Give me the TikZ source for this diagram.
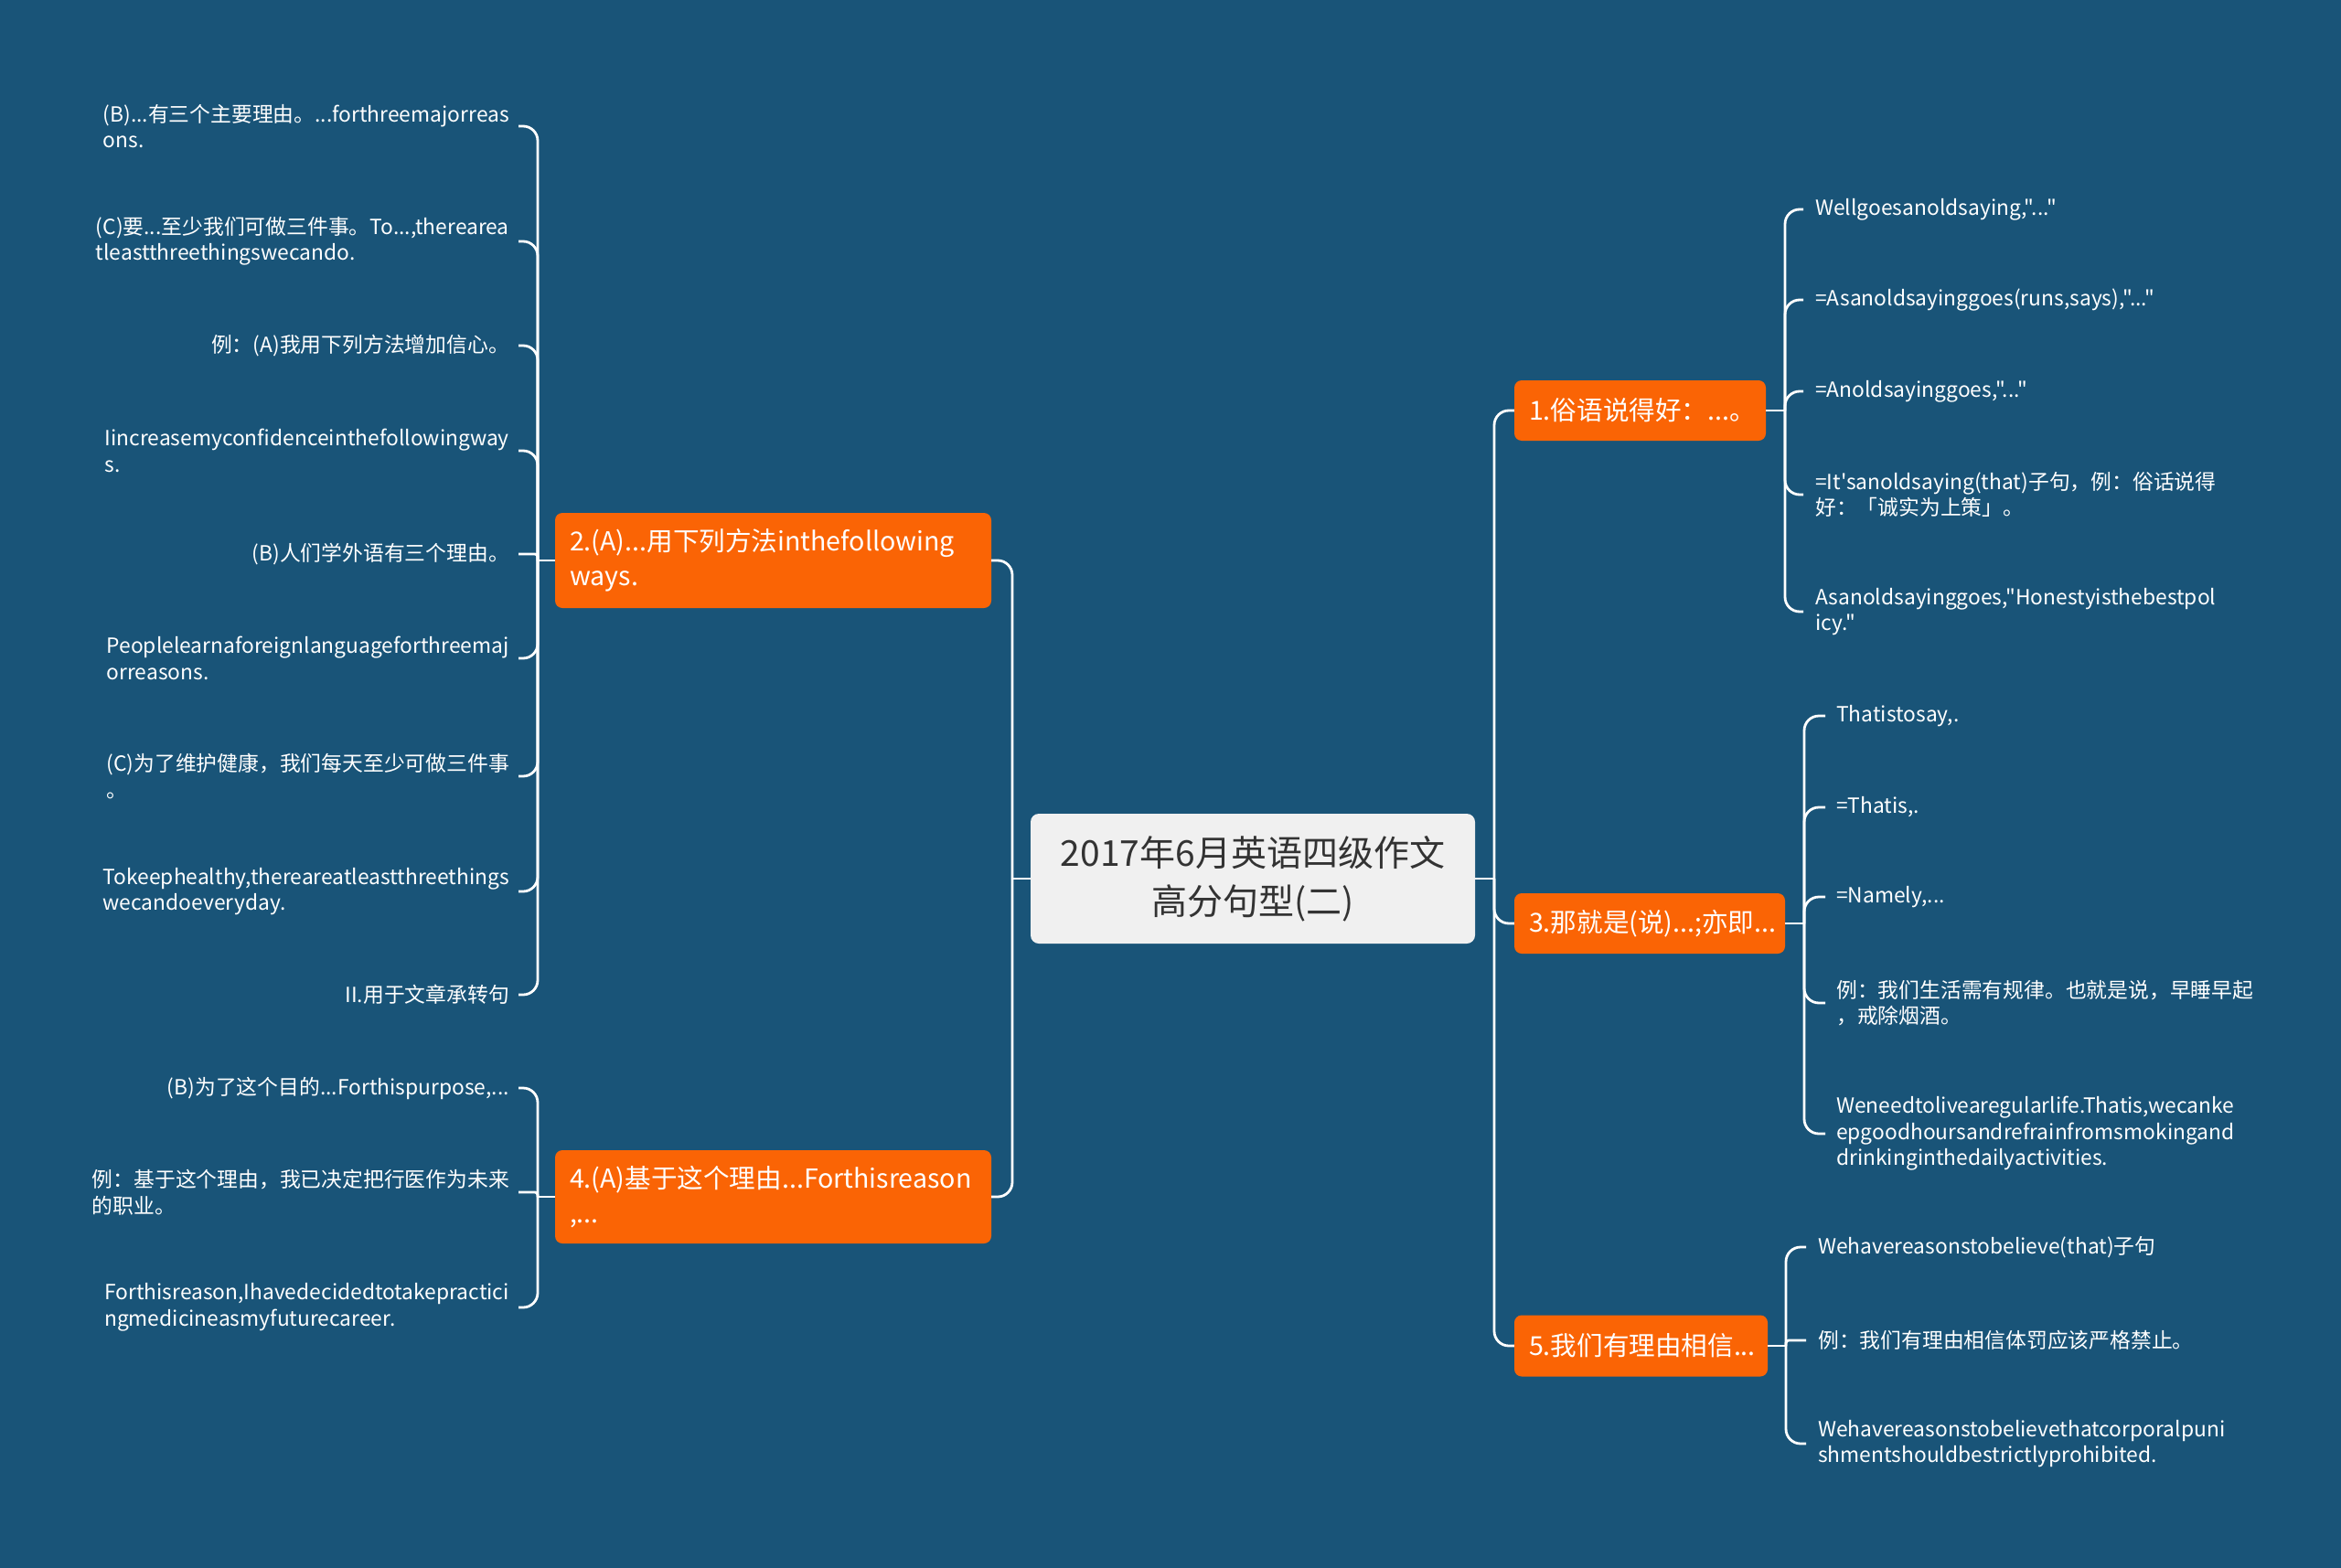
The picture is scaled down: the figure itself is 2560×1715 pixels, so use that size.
\documentclass[tikz,border=0pt]{standalone}
\usepackage{fontspec}
\setmainfont{Noto Sans CJK SC}[Ligatures=TeXOff]
\definecolor{bgblue}{HTML}{195478}
\definecolor{topicor}{HTML}{FA6405}
\definecolor{rootfill}{HTML}{F0F0F0}
\definecolor{roottext}{HTML}{333333}
\begin{document}
\begin{tikzpicture}[x=1pt,y=-1pt,
  leaf/.style={inner sep=0pt, text=white, font=\fontsize{22.8}{28.5}\selectfont, align=left},
  topic/.style={fill=topicor, rounded corners=8pt, text=white, font=\fontsize{28.6}{38}\selectfont, align=left, inner xsep=16pt, inner ysep=0pt},
  rootnode/.style={fill=rootfill, rounded corners=9pt, text=roottext, font=\fontsize{39}{53}\selectfont, align=center, inner sep=0pt},
  conn/.style={draw=white, line width=2.8pt, rounded corners=16pt}
]
\useasboundingbox (0,0) rectangle (2560,1715);
\fill[bgblue] (0,0) rectangle (2560,1715);

% root and topics
\node[rootnode, minimum width=486pt, minimum height=142pt] (c) at (1370,961) {2017年6月英语四级作文\\高分句型(二)};
\node[topic, text width=243pt, minimum height=66pt] (n1) at (1793.5,449) {1.俗语说得好：...。};
\node[topic, text width=264pt, minimum height=66pt] (n3) at (1804,1010) {3.那就是(说)...;亦即...};
\node[topic, text width=245pt, minimum height=67pt] (n5) at (1794.5,1472) {5.我们有理由相信...};
\node[topic, text width=445pt, minimum height=104pt] (n2) at (845.5,613) {2.(A)...用下列方法inthefollowing\\ways.};
\node[topic, text width=445pt, minimum height=102pt] (n4) at (845.5,1309) {4.(A)基于这个理由...Forthisreason\\,...};

% junctions
\coordinate (jr) at (1634,961);
\coordinate (jl) at (1107,961);
\coordinate (j1) at (1952,449);
\coordinate (j3) at (1973,1010);
\coordinate (j5) at (1953,1472);
\coordinate (j2) at (588,613);
\coordinate (j4) at (588,1309);

% leaves of 1
\node[leaf, anchor=west] (a1) at (1985,229) {Wellgoesanoldsaying,"..."};
\node[leaf, anchor=west] (a2) at (1985,328) {=Asanoldsayinggoes(runs,says),"..."};
\node[leaf, anchor=west] (a3) at (1985,428) {=Anoldsayinggoes,"..."};
\node[leaf, anchor=west] (a4) at (1985,541) {=It'sanoldsaying(that)子句，例：俗话说得\\好：「诚实为上策」。};
\node[leaf, anchor=west] (a5) at (1985,669) {Asanoldsayinggoes,"Honestyisthebestpol\\icy."};

% leaves of 3
\node[leaf, anchor=west] (b1) at (2008,783) {Thatistosay,.};
\node[leaf, anchor=west] (b2) at (2008,883) {=Thatis,.};
\node[leaf, anchor=west] (b3) at (2008,981) {=Namely,...};
\node[leaf, anchor=west] (b4) at (2008,1097) {例：我们生活需有规律。也就是说，早睡早起\\，戒除烟酒。};
\node[leaf, anchor=west] (b5) at (2008,1240) {Weneedtolivearegularlife.Thatis,wecanke\\epgoodhoursandrefrainfromsmokingand\\drinkinginthedailyactivities.};

% leaves of 5
\node[leaf, anchor=west] (d1) at (1988,1364) {Wehavereasonstobelieve(that)子句};
\node[leaf, anchor=west] (d2) at (1988,1466) {例：我们有理由相信体罚应该严格禁止。};
\node[leaf, anchor=west] (d3) at (1988,1579) {Wehavereasonstobelievethatcorporalpuni\\shmentshouldbestrictlyprohibited.};

% leaves of 2
\node[leaf, anchor=east] (e1) at (557,138) {(B)...有三个主要理由。...forthreemajorreas\\ons.};
\node[leaf, anchor=east] (e2) at (557,264) {(C)要...至少我们可做三件事。To...,therearea\\tleastthreethingswecando.};
\node[leaf, anchor=east] (e3) at (557,378) {例：(A)我用下列方法增加信心。};
\node[leaf, anchor=east] (e4) at (557,493) {Iincreasemyconfidenceinthefollowingway\\s.};
\node[leaf, anchor=east] (e5) at (557,606) {(B)人们学外语有三个理由。};
\node[leaf, anchor=east] (e6) at (557,720) {Peoplelearnaforeignlanguageforthreemaj\\orreasons.};
\node[leaf, anchor=east] (e7) at (557,849) {(C)为了维护健康，我们每天至少可做三件事\\。};
\node[leaf, anchor=east] (e8) at (557,975) {Tokeephealthy,thereareatleastthreethings\\wecandoeveryday.};
\node[leaf, anchor=east] (e9) at (557,1088) {II.用于文章承转句};

% leaves of 4
\node[leaf, anchor=east] (f1) at (557,1190) {(B)为了这个目的...Forthispurpose,...};
\node[leaf, anchor=east] (f2) at (557,1304) {例：基于这个理由，我已决定把行医作为未来\\的职业。};
\node[leaf, anchor=east] (f3) at (557,1430) {Forthisreason,Ihavedecidedtotakepractici\\ngmedicineasmyfuturecareer.};

% trunk connectors
\draw[conn] (c.east) -- (jr);
\draw[conn] (jr) -- (jr |- n1.west) -- (n1.west);
\draw[conn] (jr) -- (jr |- n3.west) -- (n3.west);
\draw[conn] (jr) -- (jr |- n5.west) -- (n5.west);
\draw[conn] (c.west) -- (jl);
\draw[conn] (jl) -- (jl |- n2.east) -- (n2.east);
\draw[conn] (jl) -- (jl |- n4.east) -- (n4.east);

% topic 1
\draw[conn] (n1.east) -- (j1);
\foreach \t in {a1,a2,a3,a4,a5}
  \draw[conn] (j1) -- (j1 |- \t.west) -- ([xshift=-13pt]\t.west);
% topic 3
\draw[conn] (n3.east) -- (j3);
\foreach \t in {b1,b2,b3,b4,b5}
  \draw[conn] (j3) -- (j3 |- \t.west) -- ([xshift=-12pt]\t.west);
% topic 5
\draw[conn] (n5.east) -- (j5);
\foreach \t in {d1,d3}
  \draw[conn] (j5) -- (j5 |- \t.west) -- ([xshift=-13pt]\t.west);
\draw[conn, rounded corners=3pt] (j5) -- (j5 |- d2.west) -- ([xshift=-13pt]d2.west);
% topic 2
\draw[conn] (n2.west) -- (j2);
\foreach \t in {e1,e2,e3,e4,e6,e7,e8,e9}
  \draw[conn] (j2) -- (j2 |- \t.east) -- ([xshift=10pt]\t.east);
\draw[conn, rounded corners=3pt] (j2) -- (j2 |- e5.east) -- ([xshift=10pt]e5.east);
% topic 4
\draw[conn] (n4.west) -- (j4);
\foreach \t in {f1,f3}
  \draw[conn] (j4) -- (j4 |- \t.east) -- ([xshift=10pt]\t.east);
\draw[conn, rounded corners=3pt] (j4) -- (j4 |- f2.east) -- ([xshift=10pt]f2.east);
\end{tikzpicture}
\end{document}
